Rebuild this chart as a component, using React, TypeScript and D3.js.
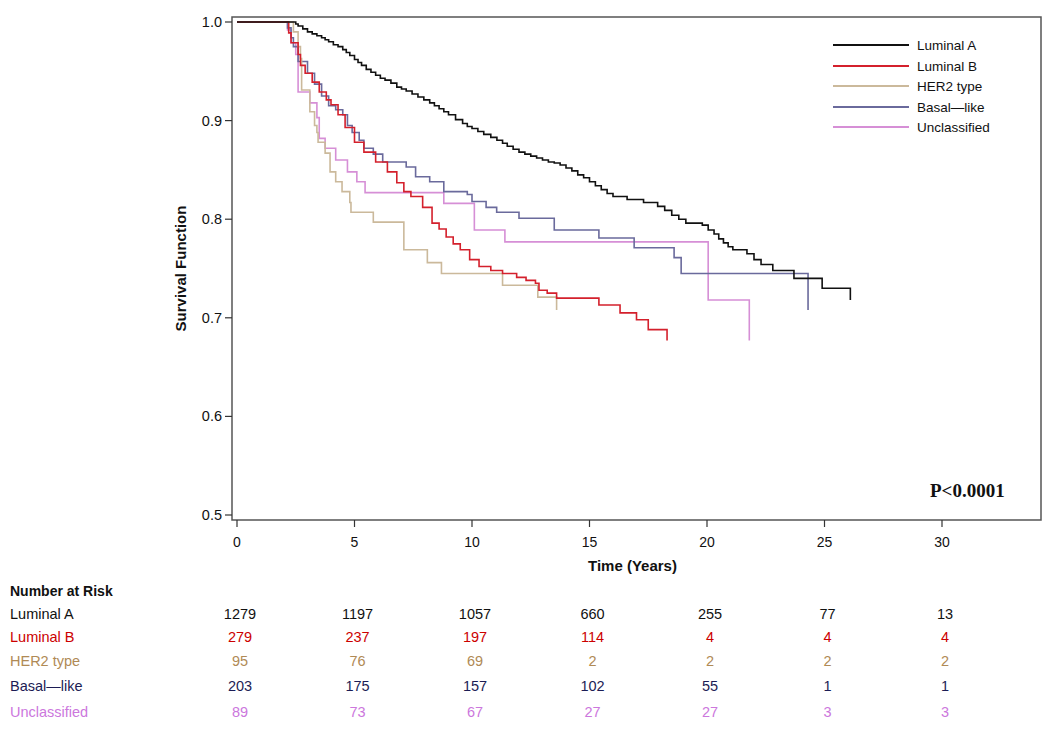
import React from "react";
import * as d3 from "d3";

const groups = ["Luminal A", "Luminal B", "HER2 type", "Basal\u2014like", "Unclassified"];
const lineColors = ["#111111", "#d4202c", "#cbb99b", "#6a6a9c", "#d68fd6"];
const textColors = ["#111111", "#cc0000", "#b08a55", "#1c1c55", "#cc77dd"];

const lumA: [number, number][] = [
  [0, 1], [2.4, 1], [2.5, 0.998], [2.6, 0.996], [2.8, 0.993], [3.0, 0.99], [3.2, 0.988], [3.4, 0.986],
  [3.6, 0.984], [3.75, 0.982], [3.9, 0.98], [4.1, 0.977], [4.3, 0.975], [4.5, 0.972], [4.65, 0.969],
  [4.8, 0.966], [5.0, 0.962], [5.15, 0.959], [5.3, 0.956], [5.5, 0.952], [5.7, 0.949], [5.9, 0.946],
  [6.1, 0.943], [6.3, 0.941], [6.55, 0.938], [6.8, 0.934], [7.0, 0.932], [7.2, 0.93], [7.45, 0.927],
  [7.7, 0.924], [7.95, 0.921], [8.2, 0.918], [8.4, 0.915], [8.6, 0.912], [8.8, 0.909], [9.0, 0.906],
  [9.3, 0.901], [9.6, 0.897], [9.8, 0.894], [10.0, 0.892], [10.25, 0.889], [10.5, 0.886], [10.8, 0.883],
  [11.06, 0.88], [11.3, 0.877], [11.5, 0.874], [11.75, 0.871], [12.0, 0.868], [12.25, 0.866], [12.5, 0.864],
  [12.75, 0.862], [13.0, 0.86], [13.25, 0.858], [13.5, 0.857], [13.75, 0.855], [14.0, 0.852], [14.25, 0.849],
  [14.5, 0.845], [14.75, 0.842], [15.0, 0.838], [15.25, 0.834], [15.5, 0.83], [15.75, 0.826], [16.0, 0.823],
  [16.6, 0.82], [17.3, 0.817], [17.9, 0.813], [18.2, 0.809], [18.5, 0.804], [18.8, 0.8], [19.1, 0.796],
  [19.8, 0.794], [20.05, 0.789], [20.3, 0.785], [20.5, 0.78], [20.7, 0.776], [20.9, 0.772], [21.1, 0.769],
  [21.7, 0.765], [22.0, 0.759], [22.3, 0.754], [22.8, 0.748], [23.7, 0.74], [24.9, 0.73], [26.1, 0.718]
];
const lumB: [number, number][] = [
  [0, 1], [2.1, 1], [2.2, 0.989], [2.3, 0.979], [2.6, 0.967], [2.7, 0.956], [2.9, 0.948], [3.2, 0.939],
  [3.5, 0.929], [3.8, 0.921], [4.0, 0.916], [4.3, 0.906], [4.6, 0.893], [5.0, 0.878], [5.4, 0.868],
  [5.9, 0.858], [6.4, 0.848], [6.8, 0.837], [7.1, 0.828], [7.4, 0.823], [7.9, 0.812], [8.3, 0.796],
  [8.6, 0.79], [8.9, 0.782], [9.2, 0.775], [9.5, 0.769], [9.9, 0.759], [10.3, 0.752], [10.8, 0.748],
  [11.3, 0.745], [11.9, 0.741], [12.3, 0.738], [12.7, 0.735], [12.85, 0.728], [13.2, 0.725], [13.6, 0.72],
  [15.4, 0.713], [16.3, 0.705], [17.0, 0.698], [17.5, 0.688], [18.3, 0.677]
];
const her2: [number, number][] = [
  [0, 1], [2.2, 1], [2.4, 0.99], [2.6, 0.975], [2.7, 0.963], [2.75, 0.931], [3.1, 0.909], [3.3, 0.895],
  [3.4, 0.888], [3.45, 0.878], [3.75, 0.867], [3.96, 0.848], [4.2, 0.838], [4.47, 0.828], [4.8, 0.817],
  [4.85, 0.807], [5.8, 0.797], [7.1, 0.769], [8.1, 0.756], [8.7, 0.745], [11.3, 0.733], [12.8, 0.721],
  [13.6, 0.708]
];
const basal: [number, number][] = [
  [0, 1], [2.1, 1], [2.15, 0.994], [2.3, 0.984], [2.4, 0.975], [2.6, 0.96], [3.0, 0.948], [3.3, 0.937],
  [3.6, 0.925], [3.9, 0.915], [4.2, 0.911], [4.5, 0.906], [4.7, 0.895], [4.9, 0.888], [5.2, 0.88],
  [5.4, 0.872], [5.8, 0.866], [6.2, 0.858], [7.2, 0.853], [7.6, 0.843], [8.2, 0.838], [8.8, 0.828],
  [9.8, 0.825], [10.0, 0.818], [10.6, 0.812], [11.05, 0.807], [12.0, 0.801], [13.5, 0.789], [15.4, 0.781],
  [16.9, 0.771], [18.6, 0.761], [18.9, 0.745], [24.3, 0.708]
];
const unclassified: [number, number][] = [
  [0, 1], [2.1, 1], [2.15, 0.992], [2.3, 0.979], [2.5, 0.967], [2.6, 0.929], [3.1, 0.918], [3.4, 0.903],
  [3.5, 0.882], [3.75, 0.872], [4.2, 0.86], [4.7, 0.848], [5.1, 0.838], [5.45, 0.827], [8.8, 0.816],
  [10.1, 0.789], [11.4, 0.777], [20.05, 0.718], [21.8, 0.677]
];
const seriesData = [lumA, lumB, her2, basal, unclassified];

const xTicks = [0, 5, 10, 15, 20, 25, 30];
const yTicks = [0.5, 0.6, 0.7, 0.8, 0.9, 1.0];
const riskTimes = [0, 5, 10, 15, 20, 25, 30];
const riskLumA = [1279, 1197, 1057, 660, 255, 77, 13];
const riskLumB = [279, 237, 197, 114, 4, 4, 4];
const riskHer2 = [95, 76, 69, 2, 2, 2, 2];
const riskBasal = [203, 175, 157, 102, 55, 1, 1];
const riskUncl = [89, 73, 67, 27, 27, 3, 3];
const riskRows = [riskLumA, riskLumB, riskHer2, riskBasal, riskUncl];

export default function App() {
  const W = 1050, H = 731;
  const frame = { left: 232, right: 1041, top: 17, bottom: 520 };
  const x = d3.scaleLinear().domain([0, 30]).range([237, 942]);
  const y = d3.scaleLinear().domain([0.5, 1.0]).range([515, 22]);
  const line = d3.line<[number, number]>().x(d => x(d[0])).y(d => y(d[1])).curve(d3.curveStepAfter);
  const sans = "Arial, 'Liberation Sans', Helvetica, sans-serif";
  const rowY = [614, 637, 661, 686, 712];
  const legendY = [45, 66, 86, 107, 127];

  return (
    <svg width={W} height={H} style={{ position: "absolute", left: 0, top: 0, background: "#fff" }} fontFamily={sans}>
      <rect x={0} y={0} width={W} height={H} fill="#fff" />
      {[4, 3, 2, 1, 0].map(i => (
        <path key={i} d={line(seriesData[i]) || ""} fill="none" stroke={lineColors[i]} strokeWidth={1.6} />
      ))}
      <rect x={frame.left} y={frame.top} width={frame.right - frame.left} height={frame.bottom - frame.top}
        fill="none" stroke="#555" strokeWidth={1.5} />
      {yTicks.map(t => (
        <g key={t}>
          <line x1={frame.left - 7} x2={frame.left} y1={y(t)} y2={y(t)} stroke="#333" strokeWidth={1.2} />
          <text x={frame.left - 10} y={y(t)} dy="0.35em" textAnchor="end" fontSize={14.5} fill="#111">{t.toFixed(1)}</text>
        </g>
      ))}
      {xTicks.map(t => (
        <g key={t}>
          <line x1={x(t)} x2={x(t)} y1={frame.bottom} y2={frame.bottom + 7} stroke="#333" strokeWidth={1.2} />
          <text x={x(t)} y={frame.bottom + 27} textAnchor="middle" fontSize={14} fill="#111">{t}</text>
        </g>
      ))}
      <text x={(frame.left + frame.right) / 2 - 4} y={571} textAnchor="middle" fontSize={15} fontWeight="bold" fill="#111">Time (Years)</text>
      <text transform={`translate(186, ${y(0.75)}) rotate(-90)`} textAnchor="middle" fontSize={15} fontWeight="bold" fill="#111">Survival Function</text>
      {groups.map((g, i) => (
        <g key={g}>
          <line x1={833} x2={909} y1={legendY[i]} y2={legendY[i]} stroke={lineColors[i]} strokeWidth={1.8} />
          <text x={917} y={legendY[i]} dy="0.35em" fontSize={13.5} fill="#111">{g}</text>
        </g>
      ))}
      <text x={930} y={497} fontFamily="'Liberation Serif', 'Times New Roman', serif" fontWeight="bold" fontSize={19} fill="#111">P&lt;0.0001</text>
      <text x={10} y={596} fontSize={14} fontWeight="bold" fill="#111">Number at Risk</text>
      {groups.map((g, i) => (
        <g key={g}>
          <text x={10} y={rowY[i]} dy="0.35em" fontSize={14.5} fill={textColors[i]}>{g}</text>
          {riskRows[i].map((v, j) => (
            <text key={j} x={x(riskTimes[j]) + 3} y={rowY[i]} dy="0.35em" textAnchor="middle" fontSize={14.5} fill={textColors[i]}>{v}</text>
          ))}
        </g>
      ))}
    </svg>
  );
}
